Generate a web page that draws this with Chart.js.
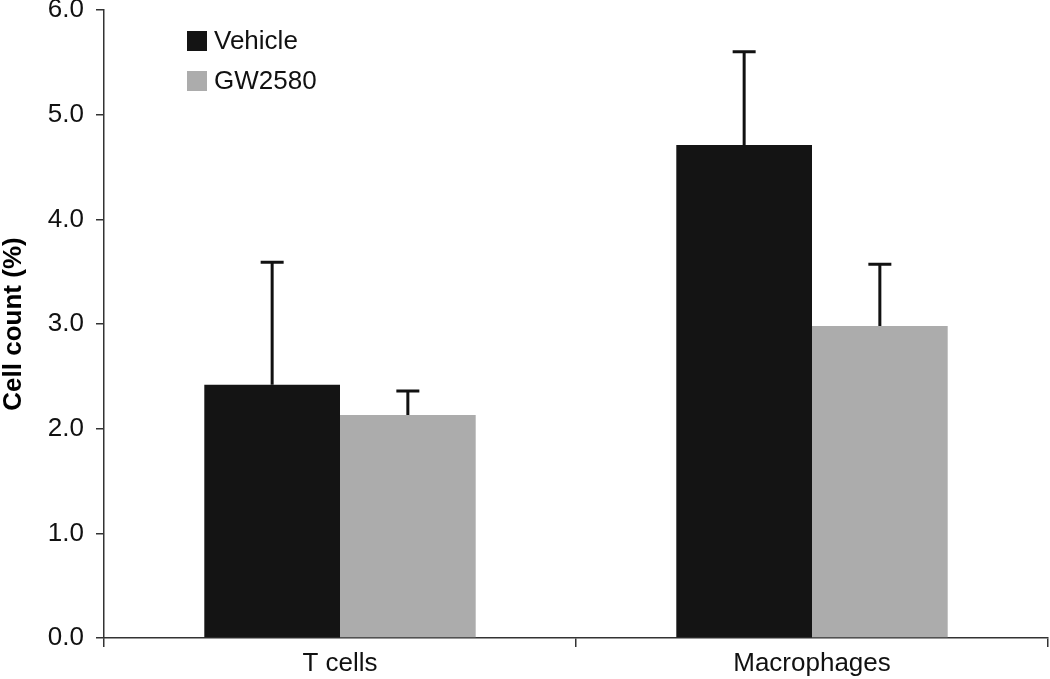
<!DOCTYPE html>
<html>
<head>
<meta charset="utf-8">
<script src="https://cdn.jsdelivr.net/npm/chart.js@4.4.0/dist/chart.umd.min.js"></script>
<style>
    html, body { margin: 0; padding: 0; background: #fff; }
    #wrap { width: 1050px; height: 679px; position: relative; }
</style>
</head>
<body>
<div id="wrap"><canvas id="myChart" width="1050" height="679"></canvas></div>
<script>
// ----- DATA -----
const categories = ['T cells', 'Macrophages'];
const seriesNames = ['Vehicle', 'GW2580'];
const vehicleValues = [2.42, 4.71];
const vehicleErrors = [1.17, 0.89];
const gwValues = [2.13, 2.98];
const gwErrors = [0.23, 0.59];
const yTicks = [0, 1, 2, 3, 4, 5, 6];

const vehicleColor = '#141414';
const gwColor = '#acacac';
const fontName = '"Liberation Sans", Arial, sans-serif';

// Error bars (only upward, like the original)
const errorBars = {
    id: 'errorBars',
    afterDatasetsDraw(chart) {
        const ctx = chart.ctx;
        const yScale = chart.scales.y;
        ctx.save();
        ctx.strokeStyle = '#111';
        ctx.lineWidth = 3;
        chart.data.datasets.forEach((ds, i) => {
            const meta = chart.getDatasetMeta(i);
            meta.data.forEach((bar, j) => {
                const top = yScale.getPixelForValue(ds.data[j] + ds.errors[j]);
                ctx.beginPath();
                ctx.moveTo(bar.x, bar.y);
                ctx.lineTo(bar.x, top);
                ctx.moveTo(bar.x - 11.5, top);
                ctx.lineTo(bar.x + 11.5, top);
                ctx.stroke();
            });
        });
        ctx.restore();
    }
};

// Legend in the top left of the plot
const boxLegend = {
    id: 'boxLegend',
    afterDraw(chart) {
        const ctx = chart.ctx;
        const colors = [vehicleColor, gwColor];
        ctx.save();
        ctx.font = '26px ' + fontName;
        ctx.textBaseline = 'middle';
        seriesNames.forEach((name, i) => {
            const y = 31 + i * 40;
            ctx.fillStyle = colors[i];
            ctx.fillRect(187, y, 20, 20);
            ctx.fillStyle = '#111';
            ctx.fillText(name, 214, y + 11);
        });
        ctx.restore();
    }
};

const ctx = document.getElementById('myChart').getContext('2d');

new Chart(ctx, {
    type: 'bar',
    data: {
        labels: categories,
        datasets: [{
            label: seriesNames[0],
            data: vehicleValues,
            errors: vehicleErrors,
            backgroundColor: vehicleColor
        }, {
            label: seriesNames[1],
            data: gwValues,
            errors: gwErrors,
            backgroundColor: gwColor
        }]
    },
    options: {
        responsive: false,
        animation: false,
        devicePixelRatio: 1,
        layout: { padding: { left: 0, right: 2, top: 10, bottom: 0 } },
        plugins: {
            legend: { display: false },
            tooltip: { enabled: false }
        },
        datasets: {
            bar: { barPercentage: 1.0, categoryPercentage: 0.575 }
        },
        scales: {
            x: {
                grid: {
                    offset: true,
                    drawOnChartArea: false,
                    drawTicks: true,
                    tickLength: 9,
                    color: '#333',
                    lineWidth: 1.5
                },
                border: { color: '#333', width: 1.5 },
                ticks: {
                    color: '#111',
                    font: { family: fontName, size: 26 },
                    padding: 1
                },
                afterFit(scale) {
                    scale.height = 41;
                    scale.paddingLeft = 0;
                    scale.paddingRight = 0;
                }
            },
            y: {
                min: 0,
                max: 6,
                afterBuildTicks(scale) {
                    scale.ticks = yTicks.map(v => ({ value: v }));
                },
                grid: {
                    drawOnChartArea: false,
                    drawTicks: true,
                    tickLength: 8,
                    color: '#333',
                    lineWidth: 1.5
                },
                border: { color: '#333', width: 1.5 },
                ticks: {
                    color: '#111',
                    font: { family: fontName, size: 26 },
                    padding: 12,
                    callback: v => Number(v).toFixed(1)
                },
                title: {
                    display: true,
                    text: 'Cell count (%)',
                    color: '#000',
                    font: { family: fontName, size: 26, weight: 'bold', lineHeight: 1.0 },
                    padding: { top: 1, bottom: 0 }
                },
                afterFit(scale) {
                    scale.width = 104;
                    scale.paddingTop = 0;
                    scale.paddingBottom = 0;
                }
            }
        }
    },
    plugins: [errorBars, boxLegend]
});
</script>
</body>
</html>
